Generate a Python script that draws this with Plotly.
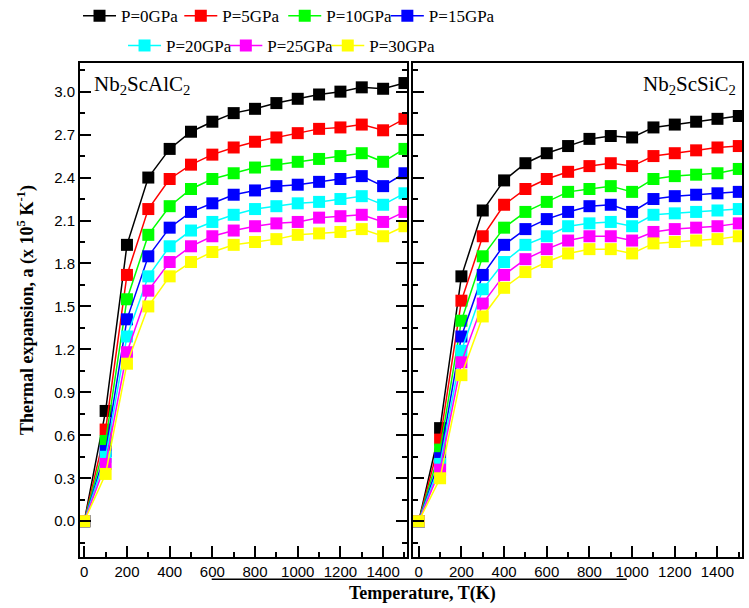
import plotly.graph_objects as go

temperatura = [0, 100, 200, 300, 400, 500, 600, 700, 800, 900, 1000, 1100, 1200, 1300, 1400, 1500]

nomes = ["P=0GPa", "P=5GPa", "P=10GPa", "P=15GPa", "P=20GPa", "P=25GPa", "P=30GPa"]
cores = ["#000000", "#ff0000", "#00ff00", "#0000ff", "#00ffff", "#ff00ff", "#ffff00"]

# Nb2ScAlC2
al_p0 = [0, 0.77, 1.93, 2.40, 2.60, 2.72, 2.79, 2.85, 2.88, 2.92, 2.95, 2.98, 3.00, 3.03, 3.02, 3.06]
al_p5 = [0, 0.64, 1.72, 2.18, 2.39, 2.49, 2.56, 2.61, 2.65, 2.68, 2.71, 2.74, 2.75, 2.77, 2.73, 2.81]
al_p10 = [0, 0.56, 1.55, 2.00, 2.20, 2.32, 2.39, 2.43, 2.47, 2.49, 2.51, 2.53, 2.55, 2.57, 2.51, 2.60]
al_p15 = [0, 0.49, 1.41, 1.85, 2.05, 2.16, 2.22, 2.28, 2.31, 2.34, 2.35, 2.37, 2.39, 2.41, 2.34, 2.43]
al_p20 = [0, 0.45, 1.29, 1.71, 1.92, 2.03, 2.09, 2.14, 2.18, 2.20, 2.22, 2.23, 2.25, 2.27, 2.21, 2.29]
al_p25 = [0, 0.40, 1.18, 1.61, 1.81, 1.92, 1.99, 2.03, 2.06, 2.08, 2.09, 2.12, 2.13, 2.14, 2.09, 2.16]
al_p30 = [0, 0.33, 1.10, 1.50, 1.71, 1.81, 1.88, 1.93, 1.95, 1.97, 2.00, 2.01, 2.02, 2.04, 1.99, 2.06]

# Nb2ScSiC2
si_p0 = [0, 0.65, 1.71, 2.17, 2.38, 2.50, 2.57, 2.62, 2.67, 2.69, 2.68, 2.75, 2.77, 2.79, 2.81, 2.83]
si_p5 = [0, 0.57, 1.54, 1.99, 2.21, 2.32, 2.39, 2.44, 2.48, 2.50, 2.48, 2.55, 2.57, 2.59, 2.61, 2.62]
si_p10 = [0, 0.50, 1.40, 1.85, 2.05, 2.16, 2.23, 2.30, 2.32, 2.34, 2.30, 2.39, 2.41, 2.42, 2.43, 2.46]
si_p15 = [0, 0.44, 1.29, 1.72, 1.93, 2.04, 2.11, 2.16, 2.20, 2.21, 2.16, 2.25, 2.27, 2.28, 2.29, 2.30]
si_p20 = [0, 0.40, 1.19, 1.62, 1.81, 1.93, 1.99, 2.06, 2.08, 2.09, 2.06, 2.14, 2.15, 2.16, 2.17, 2.18]
si_p25 = [0, 0.36, 1.11, 1.52, 1.72, 1.83, 1.90, 1.96, 1.99, 1.99, 1.96, 2.02, 2.04, 2.05, 2.06, 2.08]
si_p30 = [0, 0.30, 1.02, 1.43, 1.63, 1.74, 1.81, 1.87, 1.90, 1.90, 1.87, 1.94, 1.95, 1.96, 1.97, 1.99]

series_al = [al_p0, al_p5, al_p10, al_p15, al_p20, al_p25, al_p30]
series_si = [si_p0, si_p5, si_p10, si_p15, si_p20, si_p25, si_p30]

serif = "Liberation Serif, Times New Roman, serif"
sans = "Liberation Sans, Arial, sans-serif"

# cada item da legenda fica numa legenda propria (duas linhas no topo)
leg_x = [-0.003, 0.150, 0.307, 0.462, 0.065, 0.218, 0.372]
leg_y = [1.131, 1.131, 1.131, 1.131, 1.071, 1.071, 1.071]

fig = go.Figure()

for i in range(7):
    leg = "legend" if i == 0 else "legend" + str(i + 1)
    fig.add_trace(go.Scatter(
        x=temperatura, y=series_al[i], mode='lines+markers', name=nomes[i],
        line=dict(color=cores[i], width=1.5),
        marker=dict(symbol='square', size=12, color=cores[i]),
        legend=leg, xaxis='x', yaxis='y'
    ))

for i in range(7):
    fig.add_trace(go.Scatter(
        x=temperatura, y=series_si[i], mode='lines+markers', name=nomes[i],
        line=dict(color=cores[i], width=1.5),
        marker=dict(symbol='square', size=12, color=cores[i]),
        showlegend=False, xaxis='x2', yaxis='y2'
    ))

eixo_x = dict(
    showline=True, linecolor='black', linewidth=2, mirror=True,
    ticks='inside', ticklen=11, tickwidth=2, tickcolor='black',
    tickvals=[0, 200, 400, 600, 800, 1000, 1200, 1400],
    minor=dict(ticks='inside', ticklen=5, tickwidth=2, tickcolor='black', dtick=100, tick0=0),
    showgrid=False, zeroline=False,
    tickfont=dict(family=sans, size=15, color='black')
)
eixo_y = dict(
    showline=True, linecolor='black', linewidth=2,
    ticks='inside', ticklen=11, tickwidth=2, tickcolor='black',
    tickvals=[0, 0.3, 0.6, 0.9, 1.2, 1.5, 1.8, 2.1, 2.4, 2.7, 3.0], tickformat='.1f',
    minor=dict(ticks='inside', ticklen=5, tickwidth=2, tickcolor='black', dtick=0.15, tick0=0),
    showgrid=False, zeroline=False, range=[-0.25, 3.2],
    tickfont=dict(family=sans, size=15, color='black')
)

fig.update_layout(
    width=749, height=608,
    margin=dict(l=80, r=7, t=63, b=51, autoexpand=False),
    plot_bgcolor='white', paper_bgcolor='white',
    xaxis=dict(eixo_x, domain=[0, 0.494], range=[-20, 1512]),
    xaxis2=dict(eixo_x, domain=[0.503, 1], range=[-27, 1515], anchor='y2'),
    yaxis=dict(eixo_y, mirror='ticks',
               title=dict(text="<b>Thermal expansion, a (x 10<sup>5</sup> K<sup>-1</sup>)</b>",
                          font=dict(family=serif, size=18, color='black'), standoff=16)),
    yaxis2=dict(eixo_y, mirror=True, showticklabels=False, anchor='x2'),
    showlegend=True
)

for i in range(7):
    nome_leg = "legend" if i == 0 else "legend" + str(i + 1)
    fig.update_layout({nome_leg: dict(
        orientation='h', x=leg_x[i], xanchor='left', y=leg_y[i], yanchor='top',
        itemwidth=33,
        font=dict(family=serif, size=17, color='black'), bgcolor='rgba(0,0,0,0)'
    )})

fig.add_annotation(text="Nb<sub>2</sub>ScAlC<sub>2</sub>", xref='paper', yref='paper',
                   x=0.018, y=0.985, xanchor='left', yanchor='top', showarrow=False,
                   font=dict(family=serif, size=21, color='black'))
fig.add_annotation(text="Nb<sub>2</sub>ScSiC<sub>2</sub>", xref='paper', yref='paper',
                   x=0.994, y=0.985, xanchor='right', yanchor='top', showarrow=False,
                   font=dict(family=serif, size=21, color='black'))
fig.add_annotation(text="<b>Temperature, T(K)</b>", xref='paper', yref='paper',
                   x=0.518, y=-0.073, xanchor='center', yanchor='middle', showarrow=False,
                   font=dict(family=serif, size=18, color='black'))

# linha solta abaixo dos rotulos do eixo x
fig.add_shape(type='line', xref='paper', yref='paper', x0=0.199, x1=0.826, y0=-0.045, y1=-0.045,
              line=dict(color='black', width=1.5))

fig.write_html("out.html", config={'displayModeBar': False},
               post_script="document.body.style.margin='0';")
